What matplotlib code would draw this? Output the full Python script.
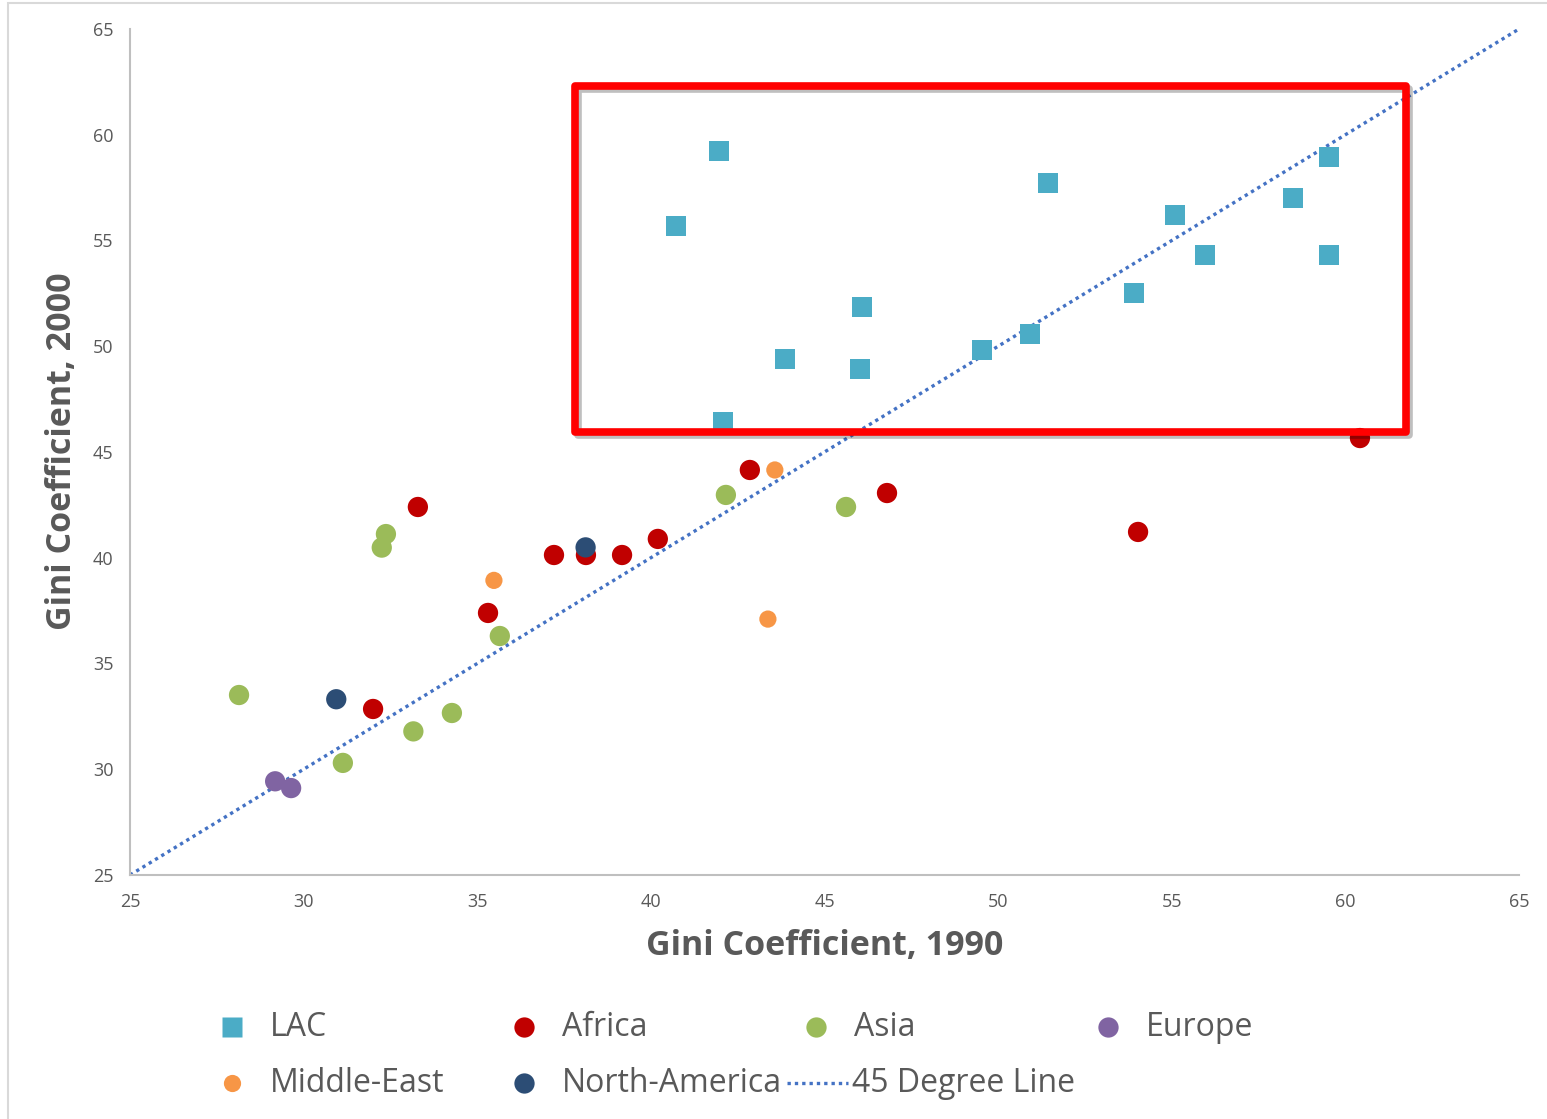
import matplotlib.pyplot as plt
import matplotlib.patheffects as pe
from matplotlib.lines import Line2D
from matplotlib.patches import Rectangle

plt.rcParams['font.family'] = ['Open Sans', 'DejaVu Sans']

W, H = 1547, 1119
GRIS = "#595959"

# Gini 1990 vs 2000 por region
lac_1990 = [41.96, 40.72, 43.86, 42.08, 46.08, 46.02, 49.54, 50.92, 51.44, 53.91, 55.09, 55.96, 58.49, 59.53, 59.53]
lac_2000 = [59.23, 55.69, 49.40, 46.42, 51.86, 48.92, 49.82, 50.58, 57.72, 52.52, 56.21, 54.31, 57.01, 58.95, 54.31]

africa_1990 = [33.29, 42.85, 46.80, 60.42, 54.03, 37.21, 38.13, 39.17, 40.20, 35.31, 32.00]
africa_2000 = [42.40, 44.15, 43.06, 45.66, 41.22, 40.13, 40.13, 40.13, 40.89, 37.39, 32.85]

asia_1990 = [32.37, 32.25, 28.14, 35.65, 33.16, 34.27, 31.13, 42.16, 45.62]
asia_2000 = [41.12, 40.48, 33.51, 36.30, 31.79, 32.66, 30.30, 42.97, 42.40]

europa_1990 = [29.18, 29.64]
europa_2000 = [29.43, 29.11]

medio_oriente_1990 = [35.48, 43.57, 43.37]
medio_oriente_2000 = [38.93, 44.15, 37.10]

norteamerica_1990 = [38.12, 30.94]
norteamerica_2000 = [40.49, 33.31]

linea_45 = [25, 65]

# zona resaltada (x0, x1, y0, y1)
zona_x = [37.82, 61.75]
zona_y = [45.95, 62.29]

series = [
    ("LAC", lac_1990, lac_2000, dict(marker="s", color="#4BACC6", size=14.6)),
    ("Africa", africa_1990, africa_2000, dict(marker="o", color="#C00000", size=14.6)),
    ("Asia", asia_1990, asia_2000, dict(marker="o", color="#9BBB59", size=14.6)),
    ("Europe", europa_1990, europa_2000, dict(marker="o", color="#8064A2", size=14.6)),
    ("Middle-East", medio_oriente_1990, medio_oriente_2000, dict(marker="o", color="#F79646", size=12.4)),
    ("North-America", norteamerica_1990, norteamerica_2000, dict(marker="o", color="#2C4D75", size=14.6)),
]
estilo_linea = dict(color="#4472C4", lw=2.4, ls=(0, (1, 1.2)), dash_capstyle="butt")

fig = plt.figure(figsize=(W / 100, H / 100), dpi=100)
ax = fig.add_axes([130 / W, 1 - 875 / H, (1519 - 130) / W, (875 - 29) / H])

ax.plot(linea_45, linea_45, zorder=2, **estilo_linea)
for nombre, xs, ys, st in series:
    ax.scatter(xs, ys, marker=st["marker"], s=st["size"] ** 2, color=st["color"],
               edgecolors="none", zorder=3, label=nombre)

ax.set_xlim(25, 65)
ax.set_ylim(25, 65)
ax.set_xticks(range(25, 66, 5))
ax.set_yticks(range(25, 66, 5))
ax.tick_params(axis="both", length=0, labelsize=13, labelcolor=GRIS)
ax.tick_params(axis="x", pad=13)
ax.tick_params(axis="y", pad=12)
for lado in ["top", "right"]:
    ax.spines[lado].set_visible(False)
for lado in ["left", "bottom"]:
    ax.spines[lado].set_color("#BFBFBF")
    ax.spines[lado].set_linewidth(1.5)

ax.set_xlabel("Gini Coefficient, 1990", fontsize=24.5, fontweight="bold", color=GRIS, va="center")
ax.xaxis.set_label_coords(0.5, -(946 - 875) / 846)
ax.set_ylabel("Gini Coefficient, 2000", fontsize=24.5, fontweight="bold", color=GRIS, va="center")
ax.yaxis.set_label_coords((62 - 130) / 1389, (875 - 451) / 846)

# recuadro rojo con sombra
rect = Rectangle((zona_x[0], zona_y[0]), zona_x[1] - zona_x[0], zona_y[1] - zona_y[0],
                 fill=False, edgecolor="#FF0000", lw=5.5, joinstyle="round",
                 zorder=5, clip_on=False)
rect.set_path_effects([pe.SimpleLineShadow(offset=(2, -2), shadow_color="#000000", alpha=0.25),
                       pe.Normal()])
ax.add_patch(rect)

# leyenda manual en dos filas
filas_y = [1 - 1027 / H, 1 - 1083 / H]
posiciones = {
    "LAC": (232, 0), "Africa": (524, 0), "Asia": (816, 0), "Europe": (1108, 0),
    "Middle-East": (232, 1), "North-America": (524, 1),
}
for nombre, xs, ys, st in series:
    xh, fila = posiciones[nombre]
    fig.add_artist(Line2D([xh / W], [filas_y[fila]], marker=st["marker"], ms=st["size"],
                          color=st["color"], mec="none", ls="none", transform=fig.transFigure))
    fig.text((xh + 38) / W, filas_y[fila], nombre, fontsize=23, color=GRIS,
             va="center", ha="left")
fig.add_artist(Line2D([787 / W, 848 / W], [filas_y[1], filas_y[1]],
                      transform=fig.transFigure, **estilo_linea))
fig.text(852 / W, filas_y[1], "45 Degree Line", fontsize=23, color=GRIS, va="center", ha="left")

# borde del grafico
fig.add_artist(Rectangle((8 / W, -0.1), 1.2, 1 - 3 / H + 0.1, transform=fig.transFigure,
                         fill=False, edgecolor="#D9D9D9", lw=1.5))

fig.savefig("out.png", dpi=100)
